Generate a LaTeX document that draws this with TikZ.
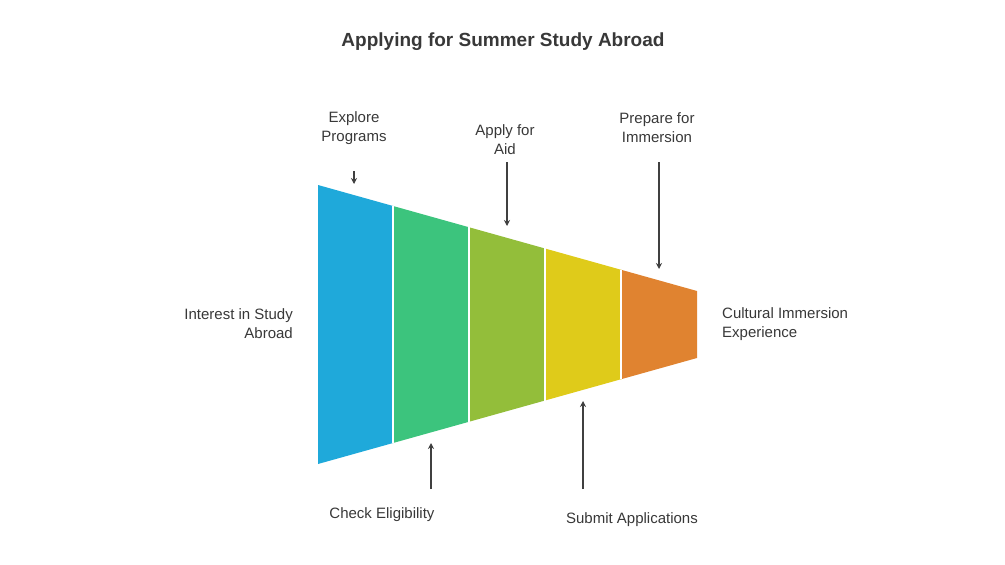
\documentclass[tikz,border=0pt]{standalone}
\usepackage{fontspec}
\setmainfont{Liberation Sans}
\usetikzlibrary{arrows.meta}
\begin{document}
\begin{tikzpicture}[x=1pt,y=-1pt,
  lbl/.style={font=\fontsize{15}{19}\selectfont,text=black!78,align=center,inner sep=0pt},
  arr/.style={draw=black!75,line width=1.2pt,-{Stealth[length=6pt,width=6pt]}},
  seg/.style={draw=white,line width=1.5pt}]
\useasboundingbox (0,0) rectangle (1005,565);
\definecolor{c1}{HTML}{1FA9DA}\definecolor{c2}{HTML}{3CC47D}
\definecolor{c3}{HTML}{93BE3A}\definecolor{c4}{HTML}{DFCB1A}\definecolor{c5}{HTML}{E08330}
\def\xs{{318,393,469,545,621,697}}
\foreach \i/\c in {0/c1,1/c2,2/c3,3/c4,4/c5}{
  \pgfmathsetmacro\xa{\xs[\i]}\pgfmathsetmacro\xb{\xs[\i+1]}
  \pgfmathsetmacro\ta{185+(\xa-318)*0.2797}\pgfmathsetmacro\tb{185+(\xb-318)*0.2797}
  \pgfmathsetmacro\ba{464-(\xa-318)*0.2797}\pgfmathsetmacro\bb{464-(\xb-318)*0.2797}
  \fill[\c] (\xa,\ta) -- (\xb,\tb) -- (\xb,\bb) -- (\xa,\ba) -- cycle;
}
\foreach \x in {393,469,545,621}{
  \pgfmathsetmacro\t{185+(\x-318)*0.2797}\pgfmathsetmacro\b{464-(\x-318)*0.2797}
  \draw[seg] (\x,\t) -- (\x,\b);}
\node[font=\bfseries\fontsize{19}{23}\selectfont,text=black!78] (title) at (503,42) {Applying for Summer Study Abroad};
\node[lbl] (l1) at (354,128) {Explore\\Programs};
\node[lbl] (l2) at (505,140) {Apply for\\Aid};
\node[lbl] (l3) at (657,128) {Prepare for\\Immersion};
\node[lbl,align=right,anchor=east] (l4) at (293,324) {Interest in Study\\Abroad};
\node[lbl,align=left,anchor=west] (l5) at (722,324) {Cultural Immersion\\Experience};
\node[lbl] (l6) at (382,515) {Check Eligibility};
\node[lbl] (l7) at (632,520) {Submit Applications};
\coordinate (a1s) at (354,171); \coordinate (a1e) at (354,184);
\coordinate (a2s) at (507,162); \coordinate (a2e) at (507,226);
\coordinate (a3s) at (659,162); \coordinate (a3e) at (659,269);
\coordinate (a4s) at (431,489); \coordinate (a4e) at (431,443);
\coordinate (a5s) at (583,489); \coordinate (a5e) at (583,401);
\foreach \k in {1,...,5}{\draw[arr] (a\k s) -- (a\k e);}
\end{tikzpicture}
\end{document}
